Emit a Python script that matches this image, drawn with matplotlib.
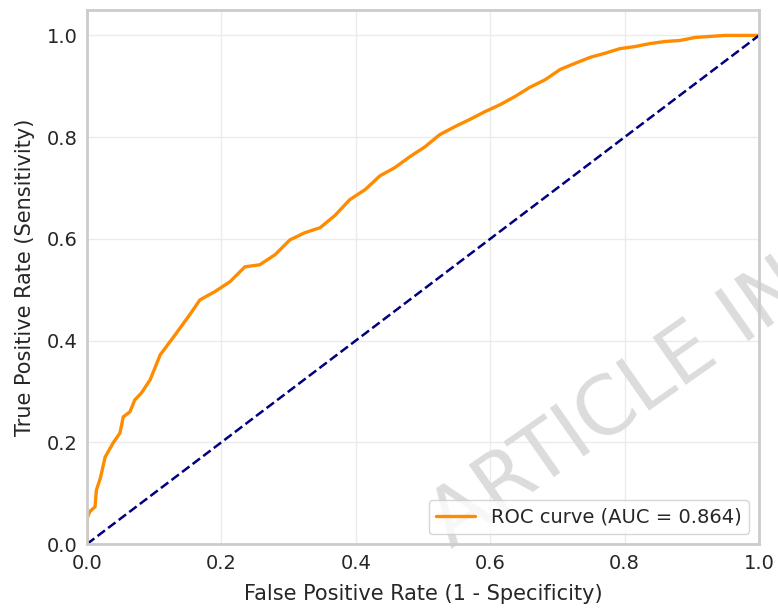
import numpy as np
import matplotlib
matplotlib.use("Agg")
from matplotlib import pyplot as plt
import seaborn as sns

sns.set_style("whitegrid")
plt.rcParams['font.family'] = ['DejaVu Sans']

# ROC curve points
fpr = [0.0, 0.0, 0.003, 0.005, 0.012, 0.014, 0.020, 0.027, 0.039, 0.049, 0.054, 0.064,
       0.071, 0.081, 0.094, 0.109, 0.131, 0.153, 0.168, 0.190, 0.213, 0.235, 0.257,
       0.280, 0.302, 0.324, 0.347, 0.369, 0.391, 0.414, 0.436, 0.458, 0.481, 0.503,
       0.525, 0.548, 0.570, 0.592, 0.615, 0.637, 0.659, 0.682, 0.704, 0.726, 0.749,
       0.771, 0.793, 0.815, 0.838, 0.860, 0.882, 0.905, 0.927, 0.949, 1.0]
tpr = [0.0, 0.05, 0.06, 0.065, 0.073, 0.106, 0.130, 0.171, 0.199, 0.218, 0.250, 0.260,
       0.283, 0.297, 0.323, 0.372, 0.411, 0.451, 0.480, 0.496, 0.516, 0.545, 0.549,
       0.569, 0.598, 0.612, 0.622, 0.646, 0.677, 0.697, 0.724, 0.740, 0.762, 0.781,
       0.805, 0.821, 0.835, 0.850, 0.864, 0.880, 0.898, 0.913, 0.933, 0.945, 0.957,
       0.965, 0.974, 0.978, 0.984, 0.988, 0.990, 0.996, 0.998, 1.0, 1.0]
auc_label = 'ROC curve (AUC = 0.864)'
diag = [0, 1]

fig = plt.figure(figsize=(7.78, 6.09), dpi=100)
ax = fig.add_axes([0.1118, 0.1067, 0.8638, 0.8769])

ax.plot(fpr, tpr, color='darkorange', lw=2.4, label=auc_label)
ax.plot(diag, diag, color='navy', lw=1.8, linestyle='--')

ax.set_xlim(0.0, 1.0)
ax.set_ylim(0.0, 1.05)
ax.set_xlabel('False Positive Rate (1 - Specificity)', fontsize=15, labelpad=8)
ax.set_ylabel('True Positive Rate (Sensitivity)', fontsize=15, labelpad=8)
ax.tick_params(labelsize=14)
ax.legend(loc='lower right', fontsize=14)

for s in ax.spines.values():
    s.set_color('#cccccc')
    s.set_linewidth(2)
ax.grid(color='#ebebeb', lw=1)

# watermark, sits under the legend
ax.text(0.535, 0.075, 'ARTICLE IN PRESS', transform=fig.transFigure, fontsize=58,
        color='#dcdcdc', rotation=35, ha='left', va='bottom', zorder=1, clip_on=False)

fig.savefig('out.png', dpi=100)
